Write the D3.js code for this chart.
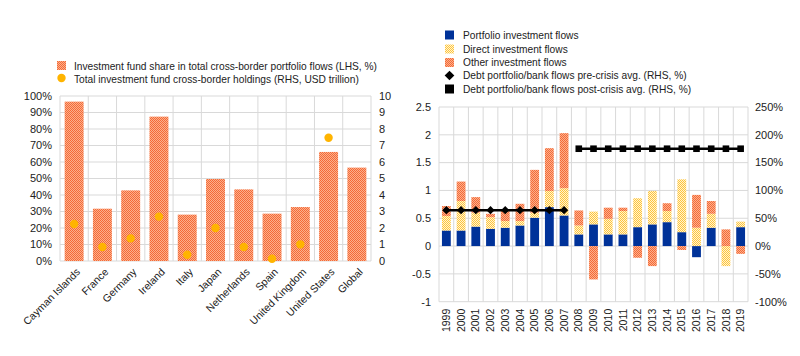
<!DOCTYPE html>
<html><head><meta charset="utf-8">
<script src="https://cdn.jsdelivr.net/npm/d3@7"></script>
<style>
html,body{margin:0;padding:0;background:#fff;}
svg text{font-family:"Liberation Sans",Arial,sans-serif;fill:#222;}
</style></head>
<body><svg id="c" width="800" height="356"></svg>
<script>
// ---------- Data: left chart ----------
const countries = ["Cayman Islands","France","Germany","Ireland","Italy","Japan","Netherlands","Spain","United Kingdom","United States","Global"];
const fundShare = [96.6, 31.7, 42.8, 87.5, 28.1, 49.7, 43.4, 28.7, 32.7, 66.1, 56.6];
const fundHoldings = [2.24, 0.85, 1.37, 2.69, 0.38, 2.0, 0.85, 0.14, 1.01, 7.47, null];
const leftTicksL = [0,10,20,30,40,50,60,70,80,90,100];
const leftTicksR = [0,1,2,3,4,5,6,7,8,9,10];

// ---------- Data: right chart ----------
const years = ["1999","2000","2001","2002","2003","2004","2005","2006","2007","2008","2009","2010","2011","2012","2013","2014","2015","2016","2017","2018","2019"];
const portfolio = [0.28,0.28,0.35,0.31,0.33,0.37,0.51,0.70,0.55,0.21,0.39,0.21,0.21,0.34,0.39,0.43,0.25,-0.20,0.33,0.00,0.34];
const direct    = [0.26,0.53,0.25,0.21,0.12,0.08,0.09,0.29,0.49,0.16,0.23,0.28,0.42,0.52,0.60,0.20,0.95,0.33,0.25,-0.36,0.10];
const other     = [0.18,0.35,0.28,0.06,0.18,0.31,0.77,0.77,0.99,0.27,-0.60,0.20,0.06,-0.21,-0.36,0.14,-0.07,0.59,0.23,0.30,-0.14];
const preYears = ["1999","2000","2001","2002","2003","2004","2005","2006","2007"];
const preAvg = 64.5;   // RHS, %
const postYears = ["2008","2009","2010","2011","2012","2013","2014","2015","2016","2017","2018","2019"];
const postAvg = 175;   // RHS, %
const rightTicksL = [-1,-0.5,0,0.5,1,1.5,2,2.5];
const rightTicksR = [-100,-50,0,50,100,150,200,250];

const svg = d3.select("#c");
const grid = "#d9d9d9";
const blue = "#003299";
const dotCol = "#ffb400";

// patterns
const defs = svg.append("defs");
function checker(id, a, b){
  const p = defs.append("pattern").attr("id", id).attr("patternUnits","userSpaceOnUse").attr("width",2).attr("height",2);
  p.append("rect").attr("width",2).attr("height",2).attr("fill",b);
  p.append("rect").attr("width",1).attr("height",1).attr("fill",a);
  p.append("rect").attr("x",1).attr("y",1).attr("width",1).attr("height",1).attr("fill",a);
}
checker("orangeP", "#f46a38", "#fcb08c");
checker("yellowP", "#ffc43d", "#fff4d0");

// ================= LEFT CHART =================
(function(){
  const x0 = 60, x1 = 371, yT = 96, yB = 261;
  const x = d3.scaleBand().domain(countries).range([x0,x1]).paddingInner(0.33).paddingOuter(0.165);
  const yL = d3.scaleLinear().domain([0,100]).range([yB,yT]);
  const yR = d3.scaleLinear().domain([0,10]).range([yB,yT]);
  const g = svg.append("g");
  g.selectAll("line.h").data(leftTicksL).enter().append("line")
    .attr("x1",x0).attr("x2",x1).attr("y1",d=>yL(d)).attr("y2",d=>yL(d)).attr("stroke",grid);
  const step = x.step();
  g.selectAll("line.v").data(d3.range(countries.length+1)).enter().append("line")
    .attr("x1",d=>x0+d*step).attr("x2",d=>x0+d*step).attr("y1",yT).attr("y2",yB).attr("stroke",grid);
  g.selectAll("rect.b").data(countries).enter().append("rect")
    .attr("x",d=>x(d)).attr("width",x.bandwidth())
    .attr("y",(d,i)=>yL(fundShare[i])).attr("height",(d,i)=>yB-yL(fundShare[i]))
    .attr("fill","url(#orangeP)");
  g.selectAll("circle.d").data(countries.filter((d,i)=>fundHoldings[i]!=null)).enter().append("circle")
    .attr("cx",d=>x(d)+x.bandwidth()/2).attr("cy",d=>yR(fundHoldings[countries.indexOf(d)])).attr("r",4.2).attr("fill",dotCol);
  g.selectAll("text.l").data(leftTicksL).enter().append("text")
    .attr("x",52).attr("y",d=>yL(d)).attr("dy","0.35em").attr("text-anchor","end").attr("font-size",11).text(d=>d+"%");
  g.selectAll("text.r").data(leftTicksR).enter().append("text")
    .attr("x",379).attr("y",d=>yR(d)).attr("dy","0.35em").attr("font-size",11).text(d=>d);
  g.selectAll("text.x").data(countries).enter().append("text")
    .attr("transform",d=>`translate(${x(d)+x.bandwidth()/2+4},${yB+9}) rotate(-45)`)
    .attr("text-anchor","end").attr("dy","0.35em").attr("font-size",10.5).text(d=>d);
  const lg = svg.append("g");
  lg.append("rect").attr("x",57).attr("y",61).attr("width",9).attr("height",9).attr("fill","url(#orangeP)");
  lg.append("text").attr("x",74).attr("y",66).attr("dy","0.35em").attr("font-size",10.2).text("Investment fund share in total cross-border portfolio flows (LHS, %)");
  lg.append("circle").attr("cx",61.5).attr("cy",78).attr("r",4.2).attr("fill",dotCol);
  lg.append("text").attr("x",74).attr("y",79).attr("dy","0.35em").attr("font-size",10.2).text("Total investment fund cross-border holdings (RHS, USD trillion)");
})();

// ================= RIGHT CHART =================
(function(){
  const x0 = 439, x1 = 748, yT = 107, yB = 301.7;
  const x = d3.scaleBand().domain(years).range([x0,x1]).paddingInner(0.4).paddingOuter(0.2);
  const yL = d3.scaleLinear().domain([-1,2.5]).range([yB,yT]);
  const yR = d3.scaleLinear().domain([-100,250]).range([yB,yT]);
  const g = svg.append("g");
  g.selectAll("line.h").data(rightTicksL).enter().append("line")
    .attr("x1",x0).attr("x2",x1).attr("y1",d=>yL(d)).attr("y2",d=>yL(d)).attr("stroke",grid);
  const step = x.step();
  g.selectAll("line.v").data(d3.range(years.length+1)).enter().append("line")
    .attr("x1",d=>x0+d*step).attr("x2",d=>x0+d*step).attr("y1",yT).attr("y2",yB).attr("stroke",grid);
  const rows = years.map((y,i)=>({year:y, portfolio:portfolio[i], direct:direct[i], other:other[i]}));
  const keys = ["portfolio","direct","other"];
  const fills = {portfolio:blue, direct:"url(#yellowP)", other:"url(#orangeP)"};
  const stack = d3.stack().keys(keys).offset(d3.stackOffsetDiverging)(rows);
  stack.forEach(s=>{
    g.selectAll(null).data(s).enter().append("rect")
      .attr("x",d=>x(d.data.year)).attr("width",x.bandwidth())
      .attr("y",d=>yL(Math.max(d[0],d[1]))).attr("height",d=>Math.abs(yL(d[0])-yL(d[1])))
      .attr("fill",fills[s.key]);
  });
  const cx = d=>x(d)+x.bandwidth()/2;
  const line = d3.line().x(d=>cx(d[0])).y(d=>yR(d[1]));
  const pre = preYears.map(y=>[y,preAvg]);
  const post = postYears.map(y=>[y,postAvg]);
  g.append("path").attr("d",line(pre)).attr("stroke","#000").attr("stroke-width",2.5).attr("fill","none");
  g.append("path").attr("d",line(post)).attr("stroke","#000").attr("stroke-width",2.5).attr("fill","none");
  g.selectAll(null).data(pre).enter().append("path")
    .attr("d",d3.symbol().type(d3.symbolDiamond2).size(44)())
    .attr("transform",d=>`translate(${cx(d[0])},${yR(d[1])})`).attr("fill","#000");
  g.selectAll(null).data(post).enter().append("rect")
    .attr("x",d=>cx(d[0])-3.3).attr("y",d=>yR(d[1])-3.3).attr("width",6.6).attr("height",6.6).attr("fill","#000");
  g.selectAll(null).data(rightTicksL).enter().append("text")
    .attr("x",431).attr("y",d=>yL(d)).attr("dy","0.35em").attr("text-anchor","end").attr("font-size",11).text(d=>d);
  g.selectAll(null).data(rightTicksR).enter().append("text")
    .attr("x",755).attr("y",d=>yR(d)).attr("dy","0.35em").attr("font-size",11).text(d=>d+"%");
  g.selectAll(null).data(years).enter().append("text")
    .attr("transform",d=>`translate(${cx(d)},${yB+7}) rotate(-90)`)
    .attr("text-anchor","end").attr("dy","0.35em").attr("font-size",10.5).text(d=>d);
  const lg = svg.append("g");
  const items = [
    {t:"Portfolio investment flows", k:"rect", f:blue},
    {t:"Direct investment flows", k:"rect", f:"url(#yellowP)"},
    {t:"Other investment flows", k:"rect", f:"url(#orangeP)"},
    {t:"Debt portfolio/bank flows pre-crisis avg. (RHS, %)", k:"diamond", f:"#000"},
    {t:"Debt portfolio/bank flows post-crisis avg. (RHS, %)", k:"rect", f:"#000"}
  ];
  const ys = [35, 49, 62.5, 75.5, 89];
  items.forEach((it,i)=>{
    if(it.k==="rect") lg.append("rect").attr("x",445).attr("y",ys[i]-4.5).attr("width",9).attr("height",9).attr("fill",it.f);
    else lg.append("path").attr("d",d3.symbol().type(d3.symbolDiamond2).size(60)()).attr("transform",`translate(449.5,${ys[i]})`).attr("fill",it.f);
    lg.append("text").attr("x",463).attr("y",ys[i]).attr("dy","0.35em").attr("font-size",10.2).text(it.t);
  });
})();
</script></body></html>
